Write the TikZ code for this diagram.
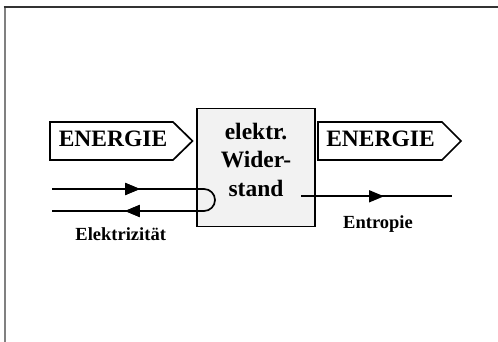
\documentclass[tikz,border=0pt]{standalone}
\usepackage{fontspec}
\setmainfont{Liberation Serif}
\usepackage[dvipsnames]{xcolor}
\usetikzlibrary{arrows.meta,decorations.markings,positioning}
\definecolor{boxgray}{gray}{0.95}
\tikzset{
  flow/.style={
    line width=1.7pt
  },
  energy/.style={
    line width=1.7pt,
    line join=miter
  },
  resistor/.style={
    shape = rectangle,
    draw,
    fill = boxgray,
    line width=1.7pt,
    minimum width=118pt,
    minimum height=118pt,
    inner sep=0pt
  },
  boxtext/.style={
    inner sep=0pt,
    align=center,
    font=\bfseries\fontsize{23.5}{24.5}\selectfont
  },
  big/.style={
    anchor = base,
    inner sep=0pt,
    font=\bfseries\fontsize{23.5}{24.5}\selectfont
  },
  small/.style={
    anchor = base,
    inner sep=0pt,
    font=\bfseries\fontsize{18.5}{20}\selectfont
  },
  tip/.style={
    decoration={markings, mark=at position #1 with {\arrow{Triangle[length=15pt,width=12pt]}}},
    postaction=decorate
  }
}

\begin{document}
\begin{tikzpicture}[x=1pt,y=1pt]
        \useasboundingbox (0,0) rectangle (498,342);
        \draw[black!50, line width=2pt] (4.5,0) -- (4.5,335);
        \draw[black!80, line width=1.2pt] (3.5,335) -- (498,335);

        \node[resistor] (wid) at (256,174.5) {};
        \node[boxtext] (widtext) at ([yshift=8pt]wid.center) {elektr.\\[4pt]Wider-\\[4pt]stand};

        \draw[energy] (50,182) -- (50,220) -- (173,220) -- (192.5,201) -- (173,182) -- cycle;
        \node[big] (ein) at (113,195) {ENERGIE};
        \draw[energy] (318,182) -- (318,220) -- (442,220) -- (461,201) -- (442,182) -- cycle;
        \node[big] (eout) at (380.5,195) {ENERGIE};

        \coordinate (elin) at (52,153);
        \coordinate (elout) at (52,131);
        \draw[flow, tip=88pt, tip=265.6pt] (elin) -- (204,153) arc (90:-90:11) -- (elout);
        \node[small] (elek) at (120.7,101.3) {Elektrizität};

        \coordinate (enin) at (301,145.7);
        \coordinate (enout) at (452,145.7);
        \draw[flow, tip=83pt] (enin) -- (enout);
        \node[small] (entr) at (378,113.7) {Entropie};
\end{tikzpicture}
\end{document}
